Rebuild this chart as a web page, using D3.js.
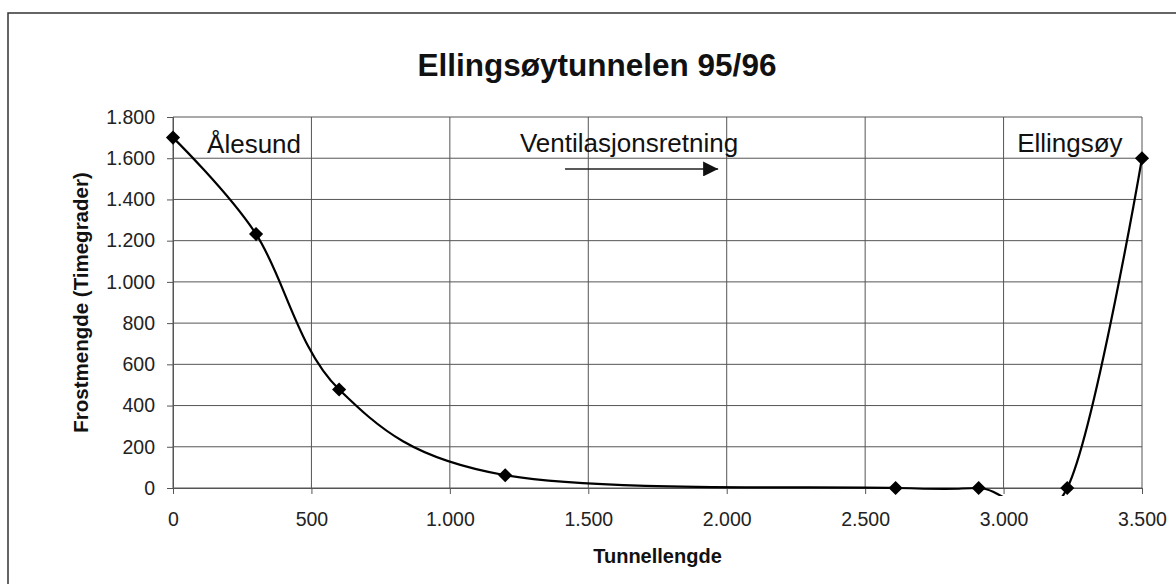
<!DOCTYPE html>
<html>
<head>
<meta charset="utf-8">
<script src="https://cdn.jsdelivr.net/npm/d3@7"></script>
<style>
  html, body { margin: 0; padding: 0; background: #fff; }
  svg { display: block; font-family: "Liberation Sans", Arial, sans-serif; }
</style>
</head>
<body>
<svg id="chart" width="1176" height="584"></svg>
<script>
// ---- data ----
const positions = [0, 300, 600, 1200, 2610, 2910, 3230, 3500];
const frost = [1700, 1232, 478, 62, 0, 0, 0, 1600];
const xTicks = [0, 500, 1000, 1500, 2000, 2500, 3000, 3500];
const yTicks = [0, 200, 400, 600, 800, 1000, 1200, 1400, 1600, 1800];
const titleText = "Ellingsøytunnelen 95/96";
const xTitle = "Tunnellengde";
const yTitle = "Frostmengde (Timegrader)";
const labelNames = ["Ålesund", "Ventilasjonsretning", "Ellingsøy"];
const labelX = [123, 1253, 3049];
const labelY = [1625, 1630, 1630];
const arrowFrom = [1416, 1548];
const arrowTo = [1969, 1548];

(function () {
// ---- layout ----
const svg = d3.select("#chart");
const pL = 173, pR = 1142, pT = 117, pB = 488;
const x = d3.scaleLinear().domain([0, 3500]).range([pL, pR]);
const y = d3.scaleLinear().domain([0, 1800]).range([pB, pT]);
const fmt = v => d3.format(",")(v).replace(/,/g, ".");
const gridCol = "#555";

// outer frame (left & top edges visible)
svg.append("path")
  .attr("d", `M8,584 L8,13 L1176,13`)
  .attr("fill", "none").attr("stroke", "#333").attr("stroke-width", 1.5);

// title
svg.append("text").attr("x", 597).attr("y", 76)
  .attr("text-anchor", "middle").attr("font-weight", "bold")
  .attr("font-size", 31.5).attr("fill", "#111").text(titleText);

// grid
const g = svg.append("g");
g.selectAll("line.h").data(yTicks).join("line")
  .attr("x1", pL).attr("x2", pR)
  .attr("y1", d => y(d)).attr("y2", d => y(d))
  .attr("stroke", gridCol).attr("stroke-width", 1);
g.selectAll("line.v").data(xTicks).join("line")
  .attr("y1", pT).attr("y2", pB)
  .attr("x1", d => x(d)).attr("x2", d => x(d))
  .attr("stroke", gridCol).attr("stroke-width", 1);

// axes
const xAxis = svg.append("g").attr("transform", `translate(0,${pB})`)
  .call(d3.axisBottom(x).tickValues(xTicks).tickFormat(fmt).tickSize(6).tickPadding(18));
const yAxis = svg.append("g").attr("transform", `translate(${pL},0)`)
  .call(d3.axisLeft(y).tickValues(yTicks).tickFormat(fmt).tickSize(6).tickPadding(12));
[xAxis, yAxis].forEach(a => {
  a.select(".domain").attr("stroke", gridCol);
  a.selectAll(".tick line").attr("stroke", gridCol);
  a.selectAll(".tick text").attr("font-size", 19.5).attr("fill", "#222")
    .attr("font-family", "Liberation Sans, Arial, sans-serif");
});

// axis titles
svg.append("text").attr("x", (pL + pR) / 2).attr("y", 563)
  .attr("text-anchor", "middle").attr("font-weight", "bold")
  .attr("font-size", 20).attr("fill", "#111").text(xTitle);
svg.append("text")
  .attr("transform", `translate(88,${(pT + pB) / 2}) rotate(-90)`)
  .attr("text-anchor", "middle").attr("font-weight", "bold")
  .attr("font-size", 20.5).attr("fill", "#111").text(yTitle);

// clip for the smoothed curve
svg.append("clipPath").attr("id", "plotclip").append("rect")
  .attr("x", pL).attr("y", pT - 10).attr("width", pR - pL + 6).attr("height", pB - pT + 18);

const pts = positions.map((p, i) => [p, frost[i]]);
const line = d3.line().x(d => x(d[0])).y(d => y(d[1])).curve(d3.curveCatmullRom.alpha(0));
svg.append("path").datum(pts)
  .attr("clip-path", "url(#plotclip)")
  .attr("d", line).attr("fill", "none").attr("stroke", "#000").attr("stroke-width", 2.2);

// markers
svg.selectAll("path.mk").data(pts).join("path")
  .attr("transform", d => `translate(${x(d[0])},${y(d[1])}) rotate(45)`)
  .attr("d", d3.symbol().type(d3.symbolSquare).size(100))
  .attr("fill", "#000");

// annotations
svg.selectAll("text.lbl").data(labelNames).join("text")
  .attr("x", (d, i) => x(labelX[i])).attr("y", (d, i) => y(labelY[i]))
  .attr("font-size", 26).attr("fill", "#111").text(d => d);

// arrow
svg.append("defs").append("marker").attr("id", "ah")
  .attr("viewBox", "0 0 10 10").attr("refX", 10).attr("refY", 5)
  .attr("markerWidth", 31).attr("markerHeight", 15).attr("markerUnits", "userSpaceOnUse")
  .attr("orient", "auto")
  .append("path").attr("d", "M0,0 L10,5 L0,10 Z").attr("fill", "#111");
svg.append("line")
  .attr("x1", x(arrowFrom[0])).attr("y1", y(arrowFrom[1]))
  .attr("x2", x(arrowTo[0])).attr("y2", y(arrowTo[1]))
  .attr("stroke", "#222").attr("stroke-width", 1.5).attr("marker-end", "url(#ah)");
})();
</script>
</body>
</html>
